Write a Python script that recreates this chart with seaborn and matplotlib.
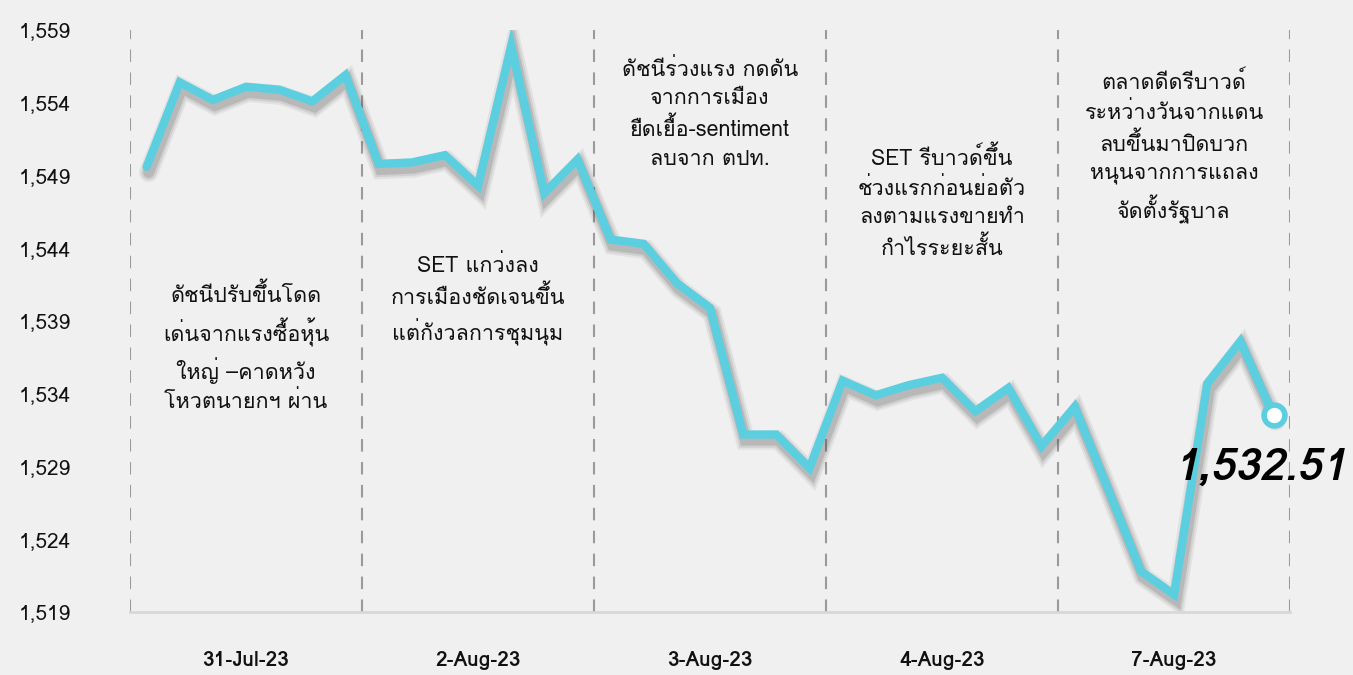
import numpy as np
import pandas as pd
import seaborn as sns
import matplotlib.pyplot as plt
import matplotlib.patheffects as pe
from matplotlib import font_manager
from matplotlib.ft2font import FT2Font

# ข้อมูล SET index รายช่วงเวลา (7 จุดต่อวัน)
days = ['31-Jul-23', '2-Aug-23', '3-Aug-23', '4-Aug-23', '7-Aug-23']
values = [
    1549.6, 1555.4, 1554.2, 1555.1, 1554.9, 1554.1, 1555.9,
    1549.8, 1549.9, 1550.4, 1548.3, 1557.9, 1547.8, 1550.1,
    1544.6, 1544.3, 1541.6, 1539.9, 1531.2, 1531.2, 1528.9,
    1534.9, 1533.9, 1534.6, 1535.1, 1532.8, 1534.4, 1530.4,
    1533.1, 1527.5, 1521.8, 1520.2, 1534.7, 1537.6, 1532.51,
]
y_ticks = [1519, 1524, 1529, 1534, 1539, 1544, 1549, 1554, 1559]
notes = [
    'ดัชนีปรับขึ้นโดด\nเด่นจากแรงซื้อหุ้น\nใหญ่ –คาดหวัง\nโหวตนายกฯ ผ่าน',
    'SET แกว่งลง\nการเมืองชัดเจนขึ้น\nแต่กังวลการชุมนุม',
    'ดัชนีร่วงแรง กดดัน\nจากการเมือง\nยืดเยื้อ-sentiment\nลบจาก ตปท.',
    'SET รีบาวด์ขึ้น\nช่วงแรกก่อนย่อตัว\nลงตามแรงขายทำ\nกำไรระยะสั้น',
    'ตลาดดีดรีบาวด์\nระหว่างวันจากแดน\nลบขึ้นมาปิดบวก\nหนุนจากการแถลง\nจัดตั้งรัฐบาล',
]
note_y = [1537.1, 1540.4, 1553.2, 1547.1, 1550.9]

per_day = len(values) // len(days)
df = pd.DataFrame({'pos': np.arange(len(values)), 'value': values})

# หาฟอนต์ที่มีอักษรไทย
thai_font = None
for f in font_manager.fontManager.ttflist:
    try:
        if 0x0E14 in FT2Font(f.fname).get_charmap():
            thai_font = f.name
            break
    except Exception:
        pass

sns.set_style('white')
fams = ([thai_font] if thai_font else []) + ['DejaVu Sans']
plt.rcParams['font.family'] = fams

bg = '#f0f0f0'
cyan = '#5bcfdf'

fig = plt.figure(figsize=(13.53, 6.75), dpi=100, facecolor=bg)
ax = fig.add_axes([0.0961, 0.0933, 0.8574, 0.8622], facecolor=bg)

# เงาแบบนุ่มใต้เส้น
shadow = [pe.SimpleLineShadow(offset=(1.5, -4), shadow_color='#333333', alpha=a, linewidth=w)
          for w, a in [(14, 0.07), (11, 0.1), (8, 0.15)]]
sns.lineplot(data=df, x='pos', y='value', ax=ax, color=cyan, linewidth=6,
             solid_joinstyle='miter', path_effects=shadow + [pe.Normal()])
ax.plot(df['pos'].iloc[-1], df['value'].iloc[-1], 'o', ms=15, mfc='white',
        mec=cyan, mew=4, zorder=5)

# เส้นแบ่งวัน
for k in range(len(days) + 1):
    ax.axvline(k * per_day - 0.5, color='#9a9a9a', ls=(0, (6, 5)), lw=1.5, zorder=0)

ax.set_xlim(-0.5, len(values) - 0.5)
ax.set_ylim(1519, 1559)
ax.set_yticks(y_ticks)
ax.set_yticklabels([f'{v:,}' for v in y_ticks], fontsize=15, color='#111111')
ax.set_xticks([k * per_day + (per_day - 1) / 2 for k in range(len(days))])
ax.set_xticklabels(days, fontsize=15, color='#111111', fontweight='bold')
ax.tick_params(axis='x', length=0, pad=28)
ax.tick_params(axis='y', length=0, pad=80)
for lbl in ax.get_yticklabels():
    lbl.set_horizontalalignment('left')
ax.set_xlabel('')
ax.set_ylabel('')
for s in ['top', 'right', 'left']:
    ax.spines[s].set_visible(False)
ax.spines['bottom'].set_color('#d8d8d8')
ax.spines['bottom'].set_linewidth(2)

for k, (txt, yv) in enumerate(zip(notes, note_y)):
    ax.text(k * per_day + (per_day - 1) / 2, yv, txt, ha='center', va='center',
            fontsize=15.5, color='#111111', linespacing=1.45)

ax.annotate(f'{values[-1]:,.2f}', (df['pos'].iloc[-1], values[-1]),
            xytext=(-72, -38), textcoords='offset points', ha='left', va='center',
            fontsize=32, fontweight='bold', fontstyle='italic', color='black',
            annotation_clip=False)

fig.savefig('out.png', dpi=100, facecolor=bg)
